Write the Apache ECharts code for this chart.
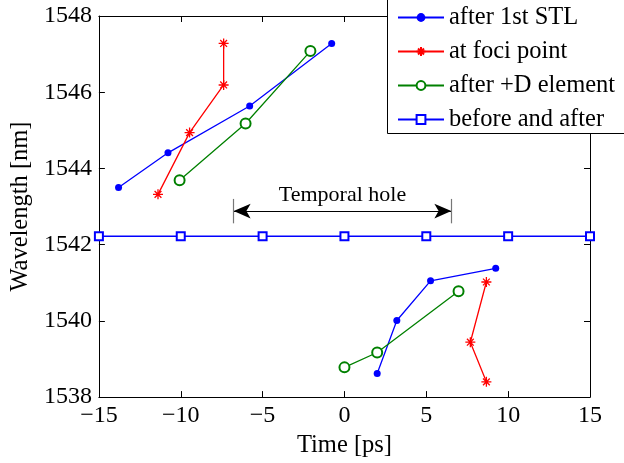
<!DOCTYPE html>
<html>
<head>
<meta charset="utf-8">
<script src="https://cdn.jsdelivr.net/npm/echarts@6/dist/echarts.min.js"></script>
<style>html,body{margin:0;padding:0;background:#fff}#c{width:624px;height:463px}</style>
</head>
<body>
<div id="c"></div>
<script>
const xTicks = { min: -15, max: 15, interval: 5 };
const yTicks = { min: 1538, max: 1548, interval: 2 };

const stlTopTime = [-13.8, -10.78, -5.79, -0.78];
const stlTopWl   = [1543.5, 1544.41, 1545.64, 1547.28];
const stlBotTime = [2.0, 3.2, 5.26, 9.24];
const stlBotWl   = [1538.62, 1540.01, 1541.05, 1541.38];

const fociTopTime = [-11.39, -9.46, -7.38, -7.38];
const fociTopWl   = [1543.32, 1544.94, 1546.19, 1547.28];
const fociBotTime = [8.67, 7.69, 8.67];
const fociBotWl   = [1541.02, 1539.44, 1538.4];

const dTopTime = [-10.07, -6.04, -2.08];
const dTopWl   = [1543.69, 1545.18, 1547.08];
const dBotTime = [0, 2.0, 6.97];
const dBotWl   = [1538.78, 1539.17, 1540.78];

const refTime = [-15, -10, -5, 0, 5, 10, 15];
const refWl   = [1542.22, 1542.22, 1542.22, 1542.22, 1542.22, 1542.22, 1542.22];

const holeStart = -6.77, holeEnd = 6.53, holeWl = 1542.88, barLow = 1542.56, barHigh = 1543.2;
const holeText = 'Temporal hole';

const names = ['after 1st STL', 'at foci point', 'after +D element', 'before and after'];

function pairs(xs, ys) { return xs.map((x, i) => [x, ys[i]]); }
function twoParts(x1, y1, x2, y2) { return pairs(x1, y1).concat([['-', '-']], pairs(x2, y2)); }

const FONT = "'Liberation Serif', 'Times New Roman', serif";
const asterisk = 'path://M5 0L5 10M0 5L10 5M1.6 1.6L8.4 8.4M1.6 8.4L8.4 1.6';

const chart = echarts.init(document.getElementById('c'), null, { renderer: 'canvas' });
const axisCommon = {
  type: 'value',
  axisLine: { show: true, onZero: false, lineStyle: { color: '#000', width: 1 } },
  axisTick: { show: true, inside: true, length: 6, lineStyle: { color: '#000' } },
  splitLine: { show: false },
};
chart.setOption({
  animation: false,
  backgroundColor: '#fff',
  textStyle: { fontFamily: FONT },
  grid: { left: 98, right: 34, top: 16, bottom: 60 },
  xAxis: [
    Object.assign({}, axisCommon, xTicks, {
      position: 'bottom', name: 'Time [ps]', nameLocation: 'middle', nameGap: 27,
      nameTextStyle: { fontFamily: FONT, fontSize: 24.5, color: '#000' },
      axisLabel: { fontFamily: FONT, fontSize: 24, color: '#000', margin: 7,
        formatter: v => (v < 0 ? '\u2212' + Math.abs(v) : '' + v) }
    }),
    Object.assign({}, axisCommon, xTicks, { position: 'top', axisLabel: { show: false } })
  ],
  yAxis: [
    Object.assign({}, axisCommon, yTicks, {
      position: 'left', name: 'Wavelength [nm]', nameLocation: 'middle', nameGap: 60,
      nameTextStyle: { fontFamily: FONT, fontSize: 24.5, color: '#000' },
      axisLabel: { fontFamily: FONT, fontSize: 24, color: '#000', margin: 7,
        formatter: v => '' + v }
    }),
    Object.assign({}, axisCommon, yTicks, { position: 'right', axisLabel: { show: false } })
  ],
  legend: {
    data: names, orient: 'vertical', left: 397, top: 5, padding: 0,
    itemWidth: 46, itemHeight: 11, itemGap: 9, z: 20,
    textStyle: { fontFamily: FONT, fontSize: 24.5, color: '#000', lineHeight: 24 },
    inactiveColor: '#ccc'
  },
  graphic: [{
    type: 'rect', z: 15, silent: true,
    shape: { x: 387.5, y: -5, width: 260, height: 138.5 },
    style: { fill: '#fff', stroke: '#000', lineWidth: 1 }
  }],
  series: [
    {
      name: names[0], type: 'line', data: twoParts(stlTopTime, stlTopWl, stlBotTime, stlBotWl),
      symbol: 'circle', symbolSize: 7, itemStyle: { color: '#0000ff' },
      lineStyle: { color: '#0000ff', width: 1.3 }, connectNulls: false
    },
    {
      name: names[1], type: 'line', data: twoParts(fociTopTime, fociTopWl, fociBotTime, fociBotWl),
      symbol: asterisk, symbolSize: 10,
      itemStyle: { color: '#ff0000', borderColor: '#ff0000', borderWidth: 1.3 },
      lineStyle: { color: '#ff0000', width: 1.3 }, connectNulls: false
    },
    {
      name: names[2], type: 'line', data: twoParts(dTopTime, dTopWl, dBotTime, dBotWl),
      symbol: 'emptyCircle', symbolSize: 10,
      itemStyle: { color: '#008000', borderColor: '#008000', borderWidth: 1.3 },
      lineStyle: { color: '#008000', width: 1.3 }, connectNulls: false
    },
    {
      name: names[3], type: 'line', data: pairs(refTime, refWl), clip: false,
      symbol: 'emptyRect', symbolSize: 8,
      itemStyle: { color: '#0000ff', borderColor: '#0000ff', borderWidth: 1.3 },
      lineStyle: { color: '#0000ff', width: 1.5 }
    },
    {
      name: 'hole', type: 'line', data: [], silent: true,
      markLine: {
        silent: true, symbol: 'none', animation: false,
        lineStyle: { type: 'solid', color: '#000', width: 1.2 },
        label: { show: false },
        data: [
          [
            { coord: [holeStart, holeWl], symbol: 'arrow', symbolSize: [11, 17],
              label: { show: true, position: 'middle', distance: 5, formatter: holeText,
                fontFamily: FONT, fontSize: 22, color: '#000' } },
            { coord: [holeEnd, holeWl], symbol: 'arrow', symbolSize: [11, 17] }
          ],
          [
            { coord: [holeStart, barLow], lineStyle: { color: '#777', width: 1.2 } },
            { coord: [holeStart, barHigh] }
          ],
          [
            { coord: [holeEnd, barLow], lineStyle: { color: '#777', width: 1.2 } },
            { coord: [holeEnd, barHigh] }
          ]
        ]
      }
    }
  ]
});
</script>
</body>
</html>
